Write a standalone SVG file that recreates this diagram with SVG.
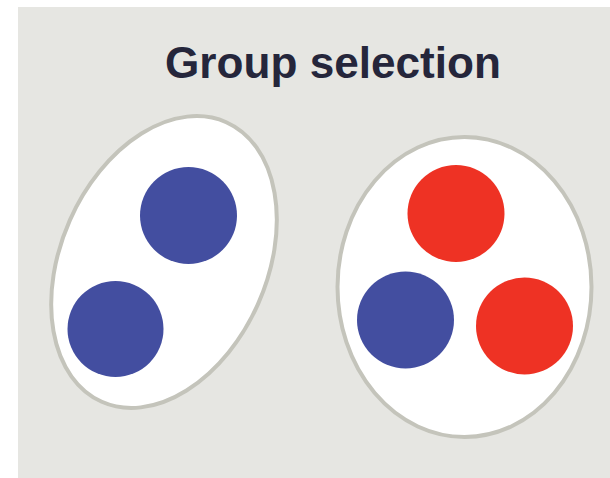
<svg xmlns="http://www.w3.org/2000/svg" width="610" height="478" viewBox="0 0 610 478">
<style>
.grp{fill:#ffffff;stroke:#c4c4bb;stroke-width:4}
.blue{fill:#434ea0}
.red{fill:#ee3224}
.title{font-family:"Liberation Sans",Arial,sans-serif;font-weight:bold;font-size:45px;fill:#25263b}
</style>
<rect x="0" y="0" width="610" height="478" fill="#ffffff"/>
<rect x="18" y="7" width="592" height="471" fill="#e6e6e2"/>
<text class="title" x="333" y="78" text-anchor="middle" textLength="336" lengthAdjust="spacingAndGlyphs">Group selection</text>
<g id="group-left">
<ellipse class="grp" cx="164" cy="262" rx="103" ry="153" transform="rotate(24 164 262)"/>
<circle id="left-blue-top" class="blue" cx="188.5" cy="215.5" r="48.5"/>
<circle id="left-blue-bottom" class="blue" cx="115.5" cy="329" r="48"/>
</g>
<g id="group-right">
<ellipse class="grp" cx="464.5" cy="287" rx="127" ry="150"/>
<circle id="right-red-top" class="red" cx="456" cy="213.5" r="48.5"/>
<circle id="right-blue" class="blue" cx="405.5" cy="320" r="48.5"/>
<circle id="right-red-right" class="red" cx="524.5" cy="326" r="48.5"/>
</g>
<g id="connectors"/>
</svg>
